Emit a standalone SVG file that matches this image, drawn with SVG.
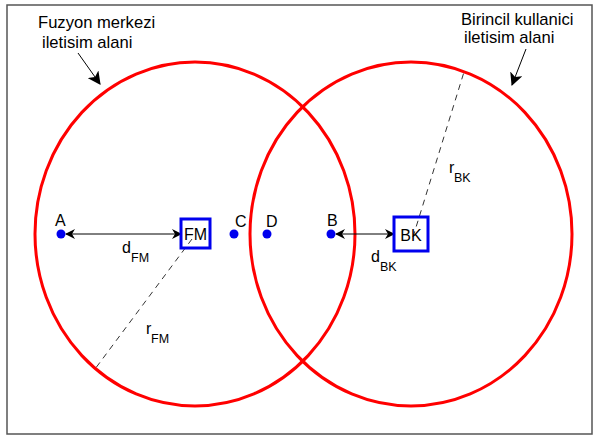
<svg xmlns="http://www.w3.org/2000/svg" width="597" height="436" viewBox="0 0 597 436">
<defs>
<marker id="ah" viewBox="0 0 10 10" refX="9" refY="5" markerWidth="10" markerHeight="10" markerUnits="userSpaceOnUse" orient="auto-start-reverse">
<path d="M0,0 L10,5 L0,10 L3,5 Z" fill="#000"/>
</marker>
<marker id="ah2" viewBox="0 0 12 12" refX="11" refY="6" markerWidth="13" markerHeight="13" markerUnits="userSpaceOnUse" orient="auto">
<path d="M0,0 L12,6 L0,12 L3,6 Z" fill="#000"/>
</marker>
</defs>
<style>
text{font-family:"Liberation Sans",Arial,sans-serif;fill:#000}
.lbl{font-size:16.6px}
.pt{font-size:16px}
.sub{font-size:12.5px}
.zone{fill:none;stroke:#ff0000;stroke-width:3}
.dot{fill:#0000ee}
.box{fill:none;stroke:#0000ee;stroke-width:3}
.dash{stroke:#333;stroke-width:1;stroke-dasharray:6,5;fill:none}
.arr{stroke:#000;stroke-width:1;fill:none}
</style>
<rect x="7" y="5" width="585" height="429" fill="#fff" stroke="#555" stroke-width="1.5"/>
<g id="zone-fm"><ellipse class="zone" cx="195" cy="234" rx="160" ry="172"/></g>
<g id="zone-bk"><ellipse class="zone" cx="411" cy="234" rx="161" ry="172"/></g>
<g id="connectors">
<line class="dash" x1="192" y1="239" x2="95" y2="369"/>
<line class="dash" x1="413" y1="237" x2="464" y2="72"/>
<line class="arr" x1="66" y1="234" x2="181" y2="234" marker-start="url(#ah)" marker-end="url(#ah)"/>
<line class="arr" x1="336" y1="234" x2="394" y2="234" marker-start="url(#ah)" marker-end="url(#ah)"/>
<line class="arr" x1="78" y1="53" x2="100" y2="84" marker-end="url(#ah2)"/>
<line class="arr" x1="526" y1="49" x2="512" y2="85" marker-end="url(#ah2)"/>
</g>
<g id="label-fm-zone">
<text class="lbl" x="38" y="28">Fuzyon merkezi</text>
<text class="lbl" x="42" y="48">iletisim alani</text>
</g>
<g id="label-bk-zone">
<text class="lbl" x="461" y="25">Birincil kullanici</text>
<text class="lbl" x="464" y="43">iletisim alani</text>
</g>
<g id="node-A"><circle class="dot" cx="61" cy="234" r="4.5"/><text class="pt" x="55" y="226">A</text></g>
<g id="node-C"><circle class="dot" cx="234" cy="234" r="4.5"/><text class="pt" x="235" y="227">C</text></g>
<g id="node-D"><circle class="dot" cx="267" cy="234" r="4.5"/><text class="pt" x="266" y="227">D</text></g>
<g id="node-B"><circle class="dot" cx="331" cy="234" r="4.5"/><text class="pt" x="327" y="226">B</text></g>
<g id="node-FM"><rect class="box" x="181" y="219" width="29" height="29"/><text class="pt" x="195.5" y="240" text-anchor="middle">FM</text></g>
<g id="node-BK"><rect class="box" x="394" y="217" width="34" height="34"/><text class="pt" x="411" y="241" text-anchor="middle">BK</text></g>
<g id="label-dFM"><text class="pt" x="122" y="253">d</text><text class="sub" x="131" y="262">FM</text></g>
<g id="label-dBK"><text class="pt" x="371" y="262">d</text><text class="sub" x="380" y="271">BK</text></g>
<g id="label-rFM"><text class="pt" x="146" y="334">r</text><text class="sub" x="151" y="343">FM</text></g>
<g id="label-rBK"><text class="pt" x="449" y="173">r</text><text class="sub" x="454" y="182">BK</text></g>
</svg>
